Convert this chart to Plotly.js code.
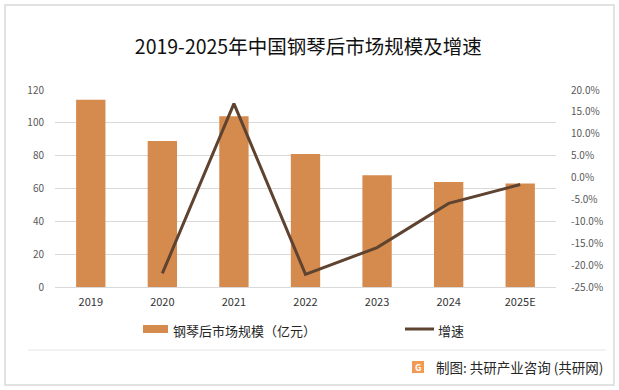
<!DOCTYPE html>
<html>
<head>
<meta charset="utf-8">
<script src="https://cdn.plot.ly/plotly-3.0.1.min.js"></script>
<style>html,body{margin:0;padding:0;background:#fff;}#chart{width:619px;height:390px;}</style>
</head>
<body>
<div id="chart"></div>
<script>
const years = ['2019', '2020', '2021', '2022', '2023', '2024', '2025E'];
const marketSize = [114, 89, 104, 81, 68, 64, 63];
const growthYears = ['2020', '2021', '2022', '2023', '2024', '2025E'];
const growthRate = [-21.9, 16.9, -22.1, -16.0, -5.9, -1.6];
const leftTicks = [0, 20, 40, 60, 80, 100, 120];
const rightTicks = [-25, -20, -15, -10, -5, 0, 5, 10, 15, 20];
const rightTickText = rightTicks.map(v => (v < 0 ? '-' : '') + Math.abs(v).toFixed(1) + '%');

const FONT = '"Noto Sans CJK SC", "Noto Sans", sans-serif';
const L = 55, R = 556, T = 90, B = 287, W = 619, H = 390;
const px = x => (x - L) / (R - L);
const py = y => (B - y) / (B - T);

const traces = [
  {
    type: 'bar', x: years, y: marketSize, name: '钢琴后市场规模（亿元）',
    marker: {color: '#D68B4E'}, width: 0.41, yaxis: 'y', hoverinfo: 'none'
  },
  {
    type: 'scatter', mode: 'lines', x: growthYears, y: growthRate, name: '增速',
    line: {color: '#5E4330', width: 3}, yaxis: 'y2', hoverinfo: 'none'
  }
];

const layout = {
  width: W, height: H,
  margin: {l: L, r: W - R, t: T, b: H - B, pad: 0},
  paper_bgcolor: '#ffffff', plot_bgcolor: 'rgba(0,0,0,0)',
  font: {family: FONT, size: 10, color: '#595959'},
  showlegend: false,
  title: {text: '2019-2025年中国钢琴后市场规模及增速', font: {family: FONT, size: 19.5, color: '#111111'}, x: 0.498, xanchor: 'center', y: 0.878, yanchor: 'middle'},
  xaxis: {
    type: 'category', showgrid: false, zeroline: false, showline: false,
    ticks: '', tickfont: {size: 11, color: '#333333'}, ticklabelstandoff: 7, fixedrange: true
  },
  yaxis: {
    range: [0, 120], tickvals: leftTicks, showgrid: true, gridcolor: '#d9d9d9', gridwidth: 1,
    zeroline: true, zerolinecolor: '#d9d9d9', showline: false, ticks: '',
    tickfont: {size: 10, color: '#595959'}, ticklabelstandoff: 10, fixedrange: true
  },
  yaxis2: {
    overlaying: 'y', side: 'right', range: [-25, 20], tickvals: rightTicks, ticktext: rightTickText,
    showgrid: false, zeroline: false, showline: false, ticks: '',
    tickfont: {size: 10, color: '#595959'}, ticklabelstandoff: 14, fixedrange: true
  },
  shapes: [
    {type: 'rect', xref: 'paper', yref: 'paper', x0: px(5), x1: px(614), y0: py(5), y1: py(385), line: {color: '#d9d9d9', width: 1.5}, fillcolor: 'rgba(0,0,0,0)', layer: 'below'},
    {type: 'line', xref: 'paper', yref: 'paper', x0: px(28), x1: px(606), y0: py(350), y1: py(350), line: {color: '#e6e6e6', width: 1}},
    {type: 'rect', xref: 'paper', yref: 'paper', x0: px(143), x1: px(168), y0: py(325), y1: py(333), fillcolor: '#D68B4E', line: {width: 0}},
    {type: 'line', xref: 'paper', yref: 'paper', x0: px(405), x1: px(434), y0: py(329), y1: py(329), line: {color: '#5E4330', width: 3}},
    {type: 'rect', xref: 'paper', yref: 'paper', x0: px(412), x1: px(424), y0: py(361), y1: py(373), fillcolor: '#F29A52', line: {width: 0}}
  ],
  annotations: [
    {xref: 'paper', yref: 'paper', x: px(171), y: py(330), xanchor: 'left', yanchor: 'middle', showarrow: false, text: '钢琴后市场规模（亿元）', font: {family: FONT, size: 13, color: '#262626'}},
    {xref: 'paper', yref: 'paper', x: px(436), y: py(330), xanchor: 'left', yanchor: 'middle', showarrow: false, text: '增速', font: {family: FONT, size: 13, color: '#262626'}},
    {xref: 'paper', yref: 'paper', x: px(418), y: py(367), xanchor: 'center', yanchor: 'middle', showarrow: false, text: '<b>G</b>', font: {family: FONT, size: 9, color: '#ffffff'}},
    {xref: 'paper', yref: 'paper', x: px(434), y: py(367), xanchor: 'left', yanchor: 'middle', showarrow: false, text: '制图: 共研产业咨询 (共研网)', font: {family: FONT, size: 13.5, color: '#262626'}}
  ]
};

Plotly.newPlot('chart', traces, layout, {displayModeBar: false, staticPlot: true});
</script>
</body>
</html>
